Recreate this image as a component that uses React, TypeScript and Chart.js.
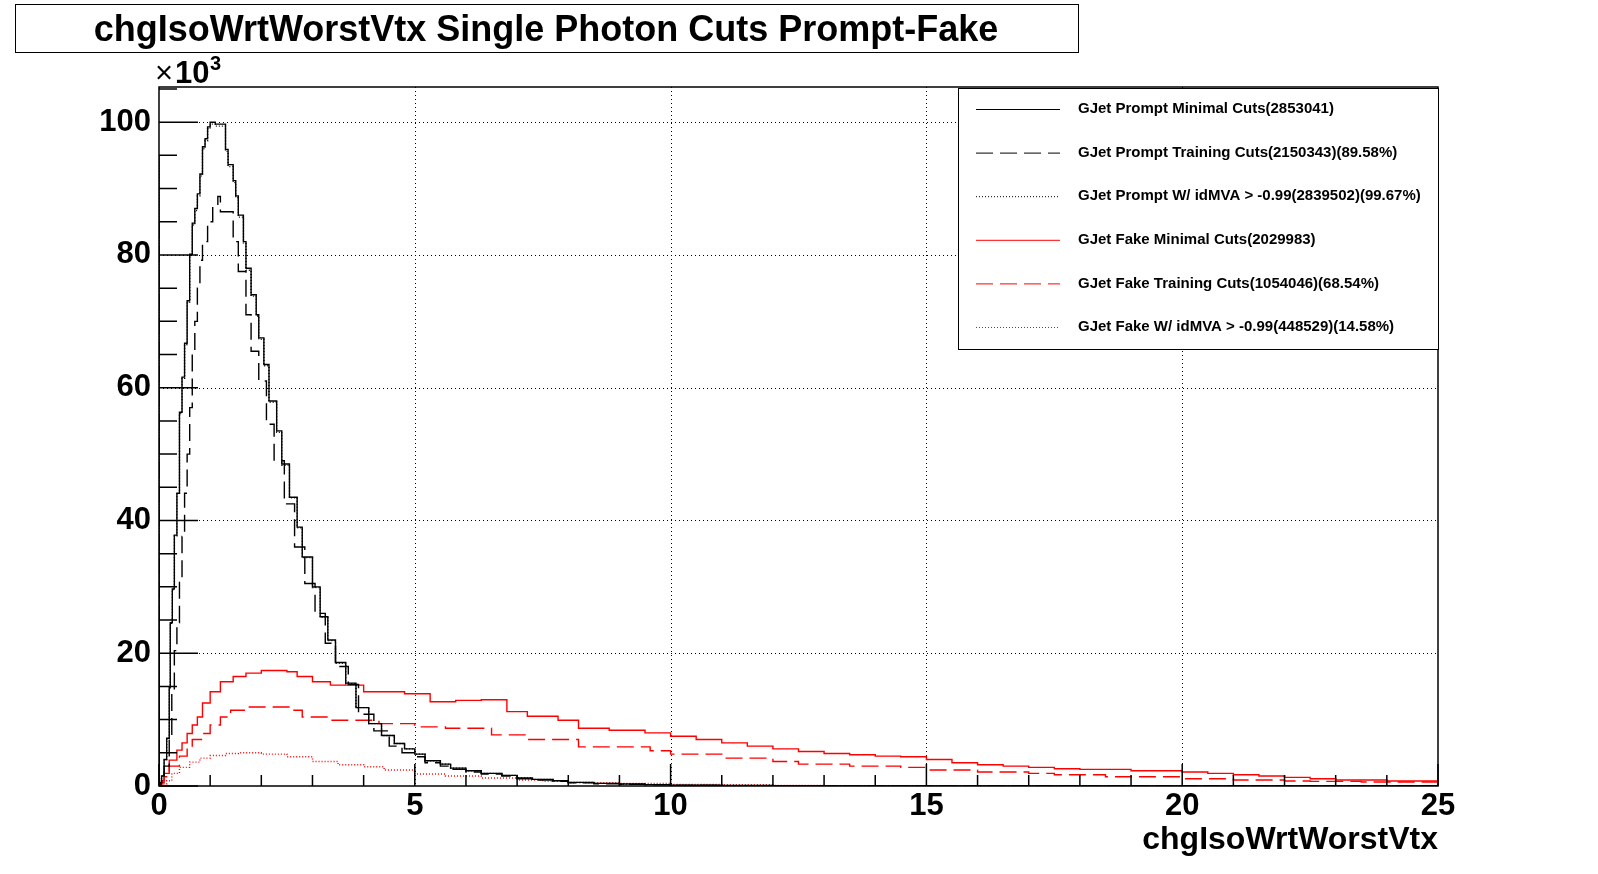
import React, { useEffect, useRef } from 'react'
import { Chart, registerables } from 'chart.js'
Chart.register(...registerables)

// [bin start, entries in thousands]
const promptMinimal: [number, number][] = [
  [0,95],[0.05,0.5],[0.1,1.5],[0.15,4],[0.2,7.2],[0.22,14.9],[0.26,24.6],[0.3,29.7],[0.35,37.8],[0.4,44.1],[0.45,56.3],[0.5,61.6],[0.55,66.7],[0.6,73.1],[0.65,80.1],[0.7,84.8],[0.75,87],[0.8,89.2],[0.85,92.2],[0.9,96.3],[0.95,97.5],[1.0,99.3],[1.1,100],[1.3,99.7],[1.35,95.9],[1.45,93.6],[1.5,91.2],[1.55,88.9],[1.65,86],[1.7,82],[1.8,78],[1.9,74],[1.95,71],[2.05,67.5],[2.15,63.5],[2.3,58],[2.4,53.5],[2.55,48.5],[2.7,43.5],[2.8,39],[3.0,34.5],[3.15,30],[3.3,25.5],[3.45,22],[3.65,18.6],[3.85,15.5],[4.1,11.8],[4.35,9.4],[4.6,7.6],[4.8,6.4],[5.0,5.6],[5.2,4.8],[5.5,3.8],[5.7,3.3],[6.0,2.7],[6.3,2.3],[6.7,1.9],[7.0,1.6],[7.3,1.2],[7.7,1.0],[8.0,0.8],[8.5,0.55],[9,0.4],[9.5,0.3],[10,0.2],[11,0.12],[12,0.07],[13,0.04],[15,0.02],[18,0.01],[25,0.01],
]
const promptTraining: [number, number][] = [
  [0,85],[0.05,0.3],[0.1,1],[0.2,3],[0.25,7.4],[0.3,14],[0.35,20.4],[0.4,24.6],[0.45,31],[0.5,37.6],[0.55,44.1],[0.6,50],[0.65,57],[0.7,65.1],[0.75,70],[0.8,75],[0.85,79.2],[0.95,82],[1.05,85],[1.15,87.5],[1.2,88.8],[1.45,86.5],[1.55,82],[1.7,77.5],[1.8,71],[1.95,65.5],[2.1,61],[2.25,54.5],[2.45,49],[2.65,42.5],[2.85,36],[3.05,30.5],[3.25,26],[3.45,21.5],[3.7,18],[3.9,15.3],[4.2,10.8],[4.5,8.3],[4.75,6],[5.0,5.0],[5.2,4.4],[5.5,3.5],[5.7,3.0],[6.0,2.5],[6.3,2.1],[6.7,1.8],[7.0,1.5],[7.3,1.1],[7.7,0.9],[8,0.7],[8.5,0.5],[9,0.35],[9.5,0.25],[10,0.18],[11,0.1],[12,0.06],[13,0.04],[15,0.02],[18,0.01],[25,0.01],
]
const promptMva: [number, number][] = [
  [0,94],[0.05,0.5],[0.1,1.5],[0.15,4],[0.2,7.1],[0.22,14.8],[0.26,24.5],[0.3,29.6],[0.35,37.7],[0.4,44],[0.45,56.1],[0.5,61.4],[0.55,66.5],[0.6,72.9],[0.65,79.9],[0.7,84.5],[0.75,86.7],[0.8,88.9],[0.85,91.9],[0.9,96],[0.95,97.2],[1.0,99],[1.1,99.7],[1.3,99.4],[1.35,95.6],[1.45,93.3],[1.5,90.9],[1.55,88.6],[1.65,85.7],[1.7,81.7],[1.8,77.7],[1.9,73.8],[1.95,70.8],[2.05,67.3],[2.15,63.3],[2.3,57.8],[2.4,53.3],[2.55,48.3],[2.7,43.4],[2.8,38.9],[3.0,34.4],[3.15,29.9],[3.3,25.4],[3.45,21.9],[3.65,18.5],[3.85,15.4],[4.1,11.8],[4.35,9.4],[4.6,7.6],[4.8,6.4],[5.0,5.6],[5.2,4.8],[5.5,3.8],[5.7,3.3],[6.0,2.7],[6.3,2.3],[6.7,1.9],[7.0,1.6],[7.3,1.2],[7.7,1.0],[8.0,0.8],[8.5,0.55],[9,0.4],[9.5,0.3],[10,0.2],[11,0.12],[12,0.07],[13,0.04],[15,0.02],[18,0.01],[25,0.01],
]
const fakeMinimal: [number, number][] = [
  [0,34],[0.05,0.3],[0.1,0.8],[0.2,1.9],[0.35,3.9],[0.45,5.4],[0.55,6.5],[0.65,7.9],[0.75,9.2],[0.85,10.4],[1.0,12.5],[1.2,14.2],[1.45,15.7],[1.7,16.5],[2.0,17.0],[2.5,17.4],[2.7,17.2],[3.0,16.5],[3.35,15.7],[3.65,15.2],[4.0,15.2],[4.3,14.2],[4.8,14.2],[5.3,13.9],[5.8,12.7],[6.3,12.9],[6.8,13.0],[7.2,11.2],[7.8,10.5],[8.2,9.9],[8.8,8.7],[9.5,8.4],[10,8.0],[10.5,7.5],[11,7.0],[11.5,6.5],[12,6.0],[12.5,5.6],[13,5.2],[13.5,4.9],[14,4.7],[14.5,4.5],[15,4.4],[15.5,4.0],[16,3.5],[16.5,3.2],[17,3.0],[17.5,2.8],[18,2.6],[19,2.5],[20,2.3],[20.5,2.1],[21,1.9],[21.5,1.7],[22,1.5],[22.5,1.3],[23,1.1],[24,0.9],[24.5,0.75],[25,0.75],
]
const fakeTraining: [number, number][] = [
  [0,22],[0.05,0.2],[0.1,0.5],[0.2,1.4],[0.4,3],[0.55,4.5],[0.65,5.9],[0.85,7],[1.0,7.9],[1.2,9.2],[1.4,10.4],[1.75,11.4],[2.6,11.9],[2.8,11.4],[3.3,10.4],[4.3,9.9],[5.0,9.4],[5.6,8.9],[6.5,8.7],[7.2,7.7],[8.2,7.0],[8.8,5.9],[9.6,5.9],[10,5.3],[11,4.8],[12,4.2],[12.5,3.7],[13.5,3.3],[14.5,3.0],[15,2.8],[16,2.4],[17,2.1],[17.5,1.9],[18.5,1.7],[20,1.4],[21,1.1],[22,0.9],[22.5,0.75],[23.5,0.7],[24.5,0.6],[25,0.6],
]
const fakeMva: [number, number][] = [
  [0,1.5],[0.05,0.1],[0.15,0.3],[0.25,0.8],[0.4,1.9],[0.6,2.8],[0.8,3.6],[1.0,4.2],[1.3,4.6],[1.55,4.9],[2.0,5.0],[2.5,4.8],[3.0,4.4],[3.5,3.7],[4.0,3.2],[4.4,2.9],[5.0,2.4],[5.6,1.8],[6.3,1.5],[7.0,1.2],[7.5,0.9],[8,0.7],[9,0.5],[10,0.4],[11,0.25],[12,0.15],[13,0.1],[15,0.05],[18,0.02],[25,0.02],
]

const labels = [
  'GJet Prompt Minimal Cuts(2853041)',
  'GJet Prompt Training Cuts(2150343)(89.58%)',
  'GJet Prompt W/ idMVA > -0.99(2839502)(99.67%)',
  'GJet Fake Minimal Cuts(2029983)',
  'GJet Fake Training Cuts(1054046)(68.54%)',
  'GJet Fake W/ idMVA > -0.99(448529)(14.58%)',
]
const xTicks = [0, 5, 10, 15, 20, 25]
const yTicks = [0, 20, 40, 60, 80, 100]

const DASH = [17, 7]
const DOT = [1, 2]
const styles = [
  { color: '#000', dash: [] as number[] },
  { color: '#000', dash: DASH },
  { color: '#000', dash: DOT },
  { color: '#f00', dash: [] as number[] },
  { color: '#f00', dash: DASH },
  { color: '#f00', dash: DOT },
]
const series = [promptMinimal, promptTraining, promptMva, fakeMinimal, fakeTraining, fakeMva]

const FONT = '"Liberation Sans", Arial, sans-serif'

const rootPlugin = {
  id: 'rootStyle',
  beforeDraw(chart: any) {
    const { ctx, chartArea: a, scales } = chart
    ctx.save()
    ctx.fillStyle = '#fff'
    ctx.fillRect(0, 0, chart.width, chart.height)
    ctx.strokeStyle = '#000'
    ctx.lineWidth = 1
    ctx.setLineDash([1, 3])
    ctx.beginPath()
    xTicks.slice(1, -1).forEach(v => {
      const x = Math.round(scales.x.getPixelForValue(v)) + 0.5
      ctx.moveTo(x, a.top); ctx.lineTo(x, a.bottom)
    })
    yTicks.slice(1).forEach(v => {
      const y = Math.round(scales.y.getPixelForValue(v)) + 0.5
      ctx.moveTo(a.left, y); ctx.lineTo(a.right, y)
    })
    ctx.stroke()
    ctx.restore()
  },
  afterDatasetsDraw(chart: any) {
    const { ctx, chartArea: a, scales } = chart
    ctx.save()
    ctx.strokeStyle = '#000'
    ctx.lineWidth = 1.5
    ctx.setLineDash([])
    ctx.strokeRect(a.left, a.top, a.right - a.left, a.bottom - a.top)
    ctx.beginPath()
    for (let v = 0; v <= 25; v += 1) {
      const x = scales.x.getPixelForValue(v)
      const len = v % 5 === 0 ? 22 : 11
      ctx.moveTo(x, a.bottom); ctx.lineTo(x, a.bottom - len)
    }
    for (let v = 0; v <= 105; v += 5) {
      const y = scales.y.getPixelForValue(v)
      const len = v % 20 === 0 ? 39 : 18
      ctx.moveTo(a.left, y); ctx.lineTo(a.left + len, y)
    }
    ctx.stroke()

    ctx.fillStyle = '#000'
    ctx.font = `bold 31px ${FONT}`
    ctx.textAlign = 'center'
    ctx.textBaseline = 'top'
    xTicks.forEach(v => ctx.fillText(String(v), scales.x.getPixelForValue(v), a.bottom + 5))
    ctx.textAlign = 'right'
    ctx.textBaseline = 'middle'
    yTicks.forEach(v => ctx.fillText(String(v), a.left - 8, scales.y.getPixelForValue(v)))
    ctx.textAlign = 'left'
    ctx.textBaseline = 'alphabetic'
    ctx.font = `31px ${FONT}`
    ctx.fillText('\u00d7', 155, 83)
    ctx.font = `bold 31px ${FONT}`
    ctx.fillText('10', 175, 83)
    ctx.font = `bold 20px ${FONT}`
    ctx.fillText('3', 210, 70)
    ctx.font = `bold 32px ${FONT}`
    ctx.textAlign = 'right'
    ctx.fillText('chgIsoWrtWorstVtx', a.right, 849)

    // title box
    ctx.lineWidth = 1
    ctx.strokeRect(15.5, 4.5, 1063, 48)
    ctx.font = `bold 36px ${FONT}`
    ctx.textAlign = 'center'
    ctx.fillText('chgIsoWrtWorstVtx Single Photon Cuts Prompt-Fake', 546, 41)

    // legend
    ctx.fillStyle = '#fff'
    ctx.fillRect(958, 88, 480, 261)
    ctx.strokeRect(958.5, 88.5, 480, 261)
    ctx.font = `bold 15px ${FONT}`
    ctx.textAlign = 'left'
    ctx.textBaseline = 'middle'
    labels.forEach((t, i) => {
      const y = 109 + i * 43.6
      ctx.strokeStyle = styles[i].color
      ctx.setLineDash(styles[i].dash)
      ctx.beginPath(); ctx.moveTo(976, y + 0.5); ctx.lineTo(1060, y + 0.5); ctx.stroke()
      ctx.setLineDash([])
      ctx.fillStyle = '#000'
      ctx.fillText(t, 1078, y)
    })
    ctx.restore()
  },
}

export default function App() {
  const ref = useRef<HTMLCanvasElement | null>(null)
  useEffect(() => {
    if (!ref.current) return
    const chart = new Chart(ref.current, {
      type: 'line',
      data: {
        datasets: series.map((s, i) => ({
          label: labels[i],
          data: s.map(([x, y]) => ({ x, y })),
          borderColor: styles[i].color,
          borderDash: styles[i].dash,
          borderWidth: 1.4,
          pointRadius: 0,
          stepped: 'after' as const,
          fill: false,
        })),
      },
      options: {
        animation: false,
        responsive: false,
        devicePixelRatio: 1,
        layout: { padding: { left: 159, right: 160, top: 87, bottom: 88 } },
        scales: {
          x: { type: 'linear', min: 0, max: 25, display: false },
          y: { type: 'linear', min: 0, max: 105.3, display: false },
        },
        plugins: { legend: { display: false }, tooltip: { enabled: false } },
      },
      plugins: [rootPlugin],
    })
    return () => chart.destroy()
  }, [])
  return (
    <div style={{ position: 'fixed', left: 0, top: 0, width: 1598, height: 874, background: '#fff' }}>
      <canvas ref={ref} width={1598} height={874} style={{ width: 1598, height: 874 }} />
    </div>
  )
}
